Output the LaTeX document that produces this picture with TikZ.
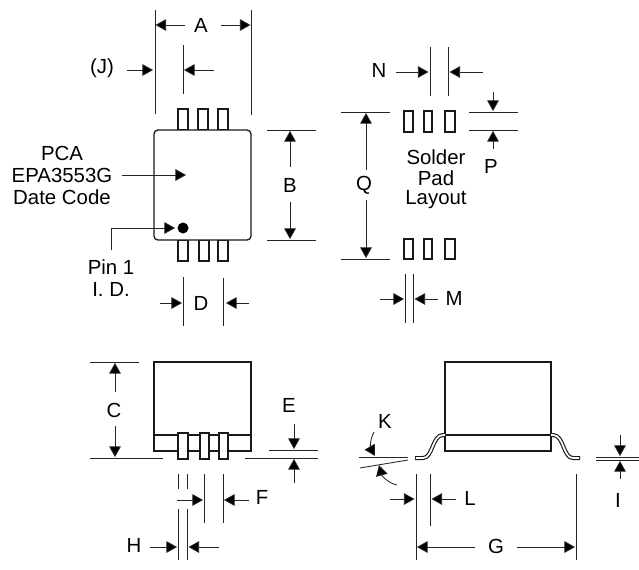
\documentclass[tikz,border=0pt]{standalone}
\usepackage{fontspec}
\setmainfont{Liberation Sans}
\usetikzlibrary{arrows.meta}
\tikzset{
  dimline/.style={line width=0.65pt,draw=black!85},
  dimarrow/.style={line width=0.65pt,draw=black!85,-{Triangle[length=8pt,width=8.8pt,fill=black]}},
  outline/.style={line width=1pt,draw=black!90},
  padbox/.style={line width=0.8pt,draw=black!90,fill=white},
  lab/.style={font=\fontsize{15.3pt}{18pt}\selectfont,inner sep=0pt,align=center,anchor=center},
  leadouter/.style={line width=3pt,draw=black!90,line cap=butt},
  leadinner/.style={line width=1.3pt,draw=white,line cap=butt}
}
\begin{document}
\begin{tikzpicture}[x=0.75pt,y=-0.75pt]
\useasboundingbox (0,0) rectangle (639,569);
% ---- top view
\foreach \xa/\xb in {178/188,198/208,218/228}{
  \draw[padbox] (\xa,109) rectangle (\xb,130);
}
\foreach \xa/\xb in {178/188,199/209,218/228}{
  \draw[padbox] (\xa,240) rectangle (\xb,261);
}
\draw[outline,fill=white,rounded corners=3pt] (154,130) rectangle (251,240);
\fill (183,228) circle[radius=5.5];
% A
\draw[dimline] (155,10) -- (155,114);
\draw[dimline] (251,10) -- (251,115);
\node[lab] (labA) at (201,25) {A};
\draw[dimarrow] (185,25) -- (155.5,25);
\draw[dimarrow] (221,25) -- (250.5,25);
% J
\node[lab] (labJ) at (102,68) {(J)};
\draw[dimarrow] (127,70) -- (153,70);
\draw[dimline] (183,45) -- (183,94);
\draw[dimarrow] (214,70) -- (184,70);
% marking
\node[lab] (labPCA) at (62,153) {PCA};
\node[lab] (labEPA) at (62,175) {EPA3553G};
\node[lab] (labDate) at (62,197) {Date Code};
\draw[dimarrow] (122,175) -- (186,175);
% pin 1
\node[lab] (labPin) at (111,267) {Pin 1};
\node[lab] (labID) at (111,289) {I. D.};
\draw[dimarrow] (111,250) -- (111,228) -- (175,228);
% D
\draw[dimline] (183,277) -- (183,326);
\draw[dimline] (223,278) -- (223,326);
\draw[dimarrow] (160,303) -- (182,303);
\draw[dimarrow] (249,303) -- (226,303);
\node[lab] (labD) at (201,303) {D};
% B
\draw[dimline] (267,130) -- (316,130);
\draw[dimline] (267,240) -- (316,240);
\node[lab] (labB) at (290,185) {B};
\draw[dimarrow] (290,167) -- (290,131);
\draw[dimarrow] (290,202) -- (290,239);
% ---- solder pads
\foreach \xa/\xb in {404/413,424/432,445/455}{
  \draw[padbox] (\xa,111) rectangle (\xb,132);
  \draw[padbox] (\xa,239) rectangle (\xb,259);
}
\node[lab] (labSol) at (436,157) {Solder};
\node[lab] (labPad) at (436,178) {Pad};
\node[lab] (labLay) at (436,200) {Layout};
% N
\draw[dimline] (430,47) -- (430,96);
\draw[dimline] (448,47) -- (448,96);
\node[lab] (labN) at (379,70) {N};
\draw[dimarrow] (396,72) -- (428.5,72);
\draw[dimarrow] (483,72) -- (449.5,72);
% Q
\draw[dimline] (341,112) -- (390,112);
\draw[dimline] (341,259) -- (390,259);
\node[lab] (labQ) at (364,185) {Q};
\draw[dimarrow] (366,170) -- (366,113);
\draw[dimarrow] (366,200) -- (366,258);
% P
\draw[dimline] (469,112) -- (518,112);
\draw[dimline] (469,130) -- (518,130);
\draw[dimarrow] (493,92) -- (493,111);
\draw[dimarrow] (493,149) -- (493,131);
\node[lab] (labP) at (491,166) {P};
% M
\draw[dimline] (405,274) -- (405,323);
\draw[dimline] (413,274) -- (413,323);
\draw[dimarrow] (380,299) -- (404,299);
\draw[dimarrow] (438,299) -- (414.5,299);
\node[lab] (labM) at (454,298) {M};
% ---- front view
\draw[outline] (154,362) rectangle (251,451);
\draw[outline] (154,435) -- (251,435);
\foreach \xa/\xb in {178/188,200/209,219/228}{
  \draw[padbox,fill=white] (\xa,433) rectangle (\xb,459);
}
% C
\draw[dimline] (90,362) -- (139,362);
\draw[dimline] (90,458) -- (163,458);
\node[lab] (labC) at (114,410) {C};
\draw[dimarrow] (115,392) -- (115,363);
\draw[dimarrow] (115,426) -- (115,457);
% E
\draw[dimline] (269,450) -- (318,450);
\draw[dimline] (245,458) -- (318,458);
\node[lab] (labE) at (289,405) {E};
\draw[dimarrow] (294,424) -- (294,449);
\draw[dimarrow] (294,483) -- (294,459);
% F
\draw[dimline] (204,474) -- (204,523);
\draw[dimline] (223,474) -- (223,523);
\draw[dimarrow] (177,500) -- (203,500);
\draw[dimarrow] (249,500) -- (224,500);
\node[lab] (labF) at (262,497) {F};
% H
\draw[dimline] (178,474) -- (178,489);
\draw[dimline] (187,474) -- (187,489);
\draw[dimline] (178,509) -- (178,560);
\draw[dimline] (187,509) -- (187,560);
\draw[dimarrow] (150,547) -- (177,547);
\draw[dimarrow] (219,547) -- (188.5,547);
\node[lab] (labH) at (134,545) {H};
% ---- side view
\draw[outline] (445,362) rectangle (551,451);
\draw[outline] (445,435) -- (551,435);
\draw[leadouter] (415,458) -- (423,458) .. controls (433,458) and (432,435) .. (443,435) -- (445,435);
\draw[leadinner] (415.8,458) -- (423,458) .. controls (433,458) and (432,435) .. (443,435) -- (445,435);
\draw[leadouter] (580,458) -- (573,458) .. controls (563,458) and (564,435) .. (553,435) -- (551,435);
\draw[leadinner] (579.2,458) -- (573,458) .. controls (563,458) and (564,435) .. (553,435) -- (551,435);
% K
\draw[dimline] (359,457) -- (408,457);
\draw[dimline] (360,468) -- (408,460);
\node[lab] (labK) at (385,421) {K};
\draw[dimarrow] (374,432) .. controls (369,441) and (371,449) .. (375,456);
\draw[dimarrow] (397,485) .. controls (388,483) and (382,476) .. (379,465);
% L
\draw[dimline] (416,474) -- (416,560);
\draw[dimline] (430,474) -- (430,526);
\draw[dimarrow] (390,499) -- (414.5,499);
\draw[dimarrow] (456,499) -- (431.5,499);
\node[lab] (labL) at (470,498) {L};
% G
\draw[dimline] (576,474) -- (576,560);
\node[lab] (labG) at (496,546) {G};
\draw[dimarrow] (475,547) -- (417,547);
\draw[dimarrow] (517,547) -- (575,547);
% I
\draw[dimline] (596,457) -- (639,457);
\draw[dimline] (596,460) -- (639,460);
\draw[dimarrow] (620,435) -- (620,456);
\draw[dimarrow] (620,479) -- (620,461);
\node[lab] (labI) at (618,500) {I};
\end{tikzpicture}
\end{document}
